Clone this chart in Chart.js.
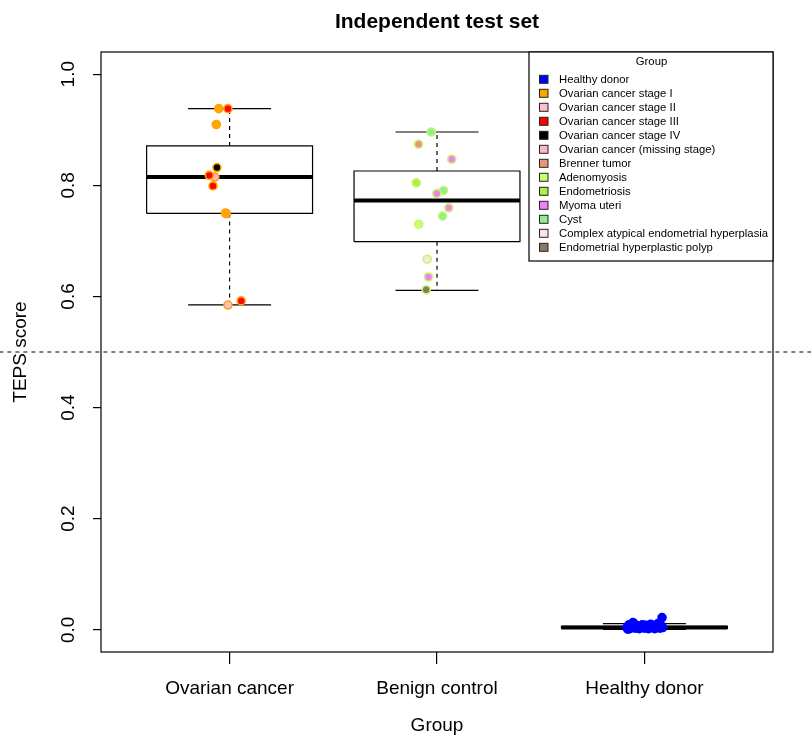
<!DOCTYPE html>
<html><head><meta charset="utf-8">
<script src="https://cdn.jsdelivr.net/npm/chart.js@4.4.0/dist/chart.umd.min.js"></script>
<style>html,body{margin:0;padding:0;background:#fff}#wrap{width:811px;height:735px;position:relative}</style>
</head><body><div id="wrap"><canvas id="c"></canvas></div>
<script>
// ---------- data ----------
const categories = ['Ovarian cancer', 'Benign control', 'Healthy donor'];
const categoryPositions = [1, 2, 3];
const yTickValues = [0, 0.2, 0.4, 0.6, 0.8, 1.0];
const yTickLabels = ['0.0', '0.2', '0.4', '0.6', '0.8', '1.0'];
const threshold = 0.5;

// boxplot statistics per category
const whiskerLow  = [0.585, 0.611, 0.0005];
const quartile1   = [0.7495, 0.6985, 0.0025];
const medians     = [0.815, 0.7725, 0.004];
const quartile3   = [0.871, 0.8258, 0.006];
const whiskerHigh = [0.938, 0.896, 0.011];

// legend / subgroups
const subgroups = ['Healthy donor', 'Ovarian cancer stage I', 'Ovarian cancer stage II', 'Ovarian cancer stage III',
  'Ovarian cancer stage IV', 'Ovarian cancer (missing stage)', 'Brenner tumor', 'Adenomyosis', 'Endometriosis',
  'Myoma uteri', 'Cyst', 'Complex atypical endometrial hyperplasia', 'Endometrial hyperplastic polyp'];
const subgroupColors = ['#0000FF', '#FFA500', '#FFC0CB', '#FF0000', '#000000', '#FFB6C1', '#E9967A',
  '#CAFF70', '#B3EE3A', '#EE82EE', '#90EE90', '#FFE4E1', '#8B7765'];
const groupBorderColors = ['#FFA500', '#C8F56A', '#0000FF'];

// individual samples (score, subgroup index, horizontal jitter)
const ovarianScores   = [0.938, 0.938, 0.9095, 0.832, 0.818, 0.815, 0.799, 0.749, 0.750, 0.592, 0.5845];
const ovarianSubgroup = [1, 3, 1, 4, 3, 5, 3, 3, 1, 3, 2];
const ovarianJitter   = [-0.052, -0.008, -0.064, -0.061, -0.098, -0.071, -0.080, -0.016, -0.020, 0.056, -0.008];

const benignScores   = [0.896, 0.874, 0.847, 0.8046, 0.7908, 0.7854, 0.7595, 0.7446, 0.730, 0.667, 0.635, 0.612];
const benignSubgroup = [10, 6, 9, 8, 10, 9, 9, 10, 7, 11, 9, 12];
const benignJitter   = [-0.028, -0.089, 0.071, -0.100, 0.031, -0.001, 0.057, 0.027, -0.088, -0.047, -0.041, -0.052];

const healthyScores = [0.004, 0.009, 0.002, 0.006, 0.011, 0.003, 0.007, 0.002, 0.005, 0.009, 0.003, 0.006,
  0.002, 0.010, 0.004, 0.007, 0.002, 0.005, 0.011, 0.003, 0.008, 0.022, 0.004, 0.001, 0.013, 0.008];
const healthyJitter = [-0.085, -0.075, -0.070, -0.060, -0.050, -0.045, -0.035, -0.025, -0.015, -0.010, 0.000, 0.010,
  0.020, 0.030, 0.035, 0.045, 0.050, 0.060, 0.065, 0.075, 0.080, 0.085, 0.088, -0.080, -0.055, 0.005];

// ---------- build datasets ----------
const FONT = '"Liberation Sans", Arial, Helvetica, sans-serif';
const BOX_HALF = 0.4, CAP_HALF = 0.2;

const groups = [
  {scores: ovarianScores, sub: ovarianSubgroup, jit: ovarianJitter},
  {scores: benignScores, sub: benignSubgroup, jit: benignJitter},
  {scores: healthyScores, sub: healthyScores.map(() => 0), jit: healthyJitter}
];

const pointSets = subgroups.map(() => ({data: [], borders: []}));
groups.forEach((g, gi) => {
  g.scores.forEach((s, i) => {
    const ps = pointSets[g.sub[i]];
    ps.data.push({x: categoryPositions[gi] + g.jit[i], y: s});
    ps.borders.push(groupBorderColors[gi]);
  });
});

const gap = (x) => ({x: x, y: null});
const boxData = [], medianData = [], whiskerData = [], capData = [];
categoryPositions.forEach((c, i) => {
  boxData.push({x: c - BOX_HALF, y: quartile1[i]}, {x: c + BOX_HALF, y: quartile1[i]},
    {x: c + BOX_HALF, y: quartile3[i]}, {x: c - BOX_HALF, y: quartile3[i]}, {x: c - BOX_HALF, y: quartile1[i]}, gap(c));
  medianData.push({x: c - BOX_HALF, y: medians[i]}, {x: c + BOX_HALF, y: medians[i]}, gap(c));
  whiskerData.push({x: c, y: quartile3[i]}, {x: c, y: whiskerHigh[i]}, gap(c),
    {x: c, y: quartile1[i]}, {x: c, y: whiskerLow[i]}, gap(c));
  capData.push({x: c - CAP_HALF, y: whiskerHigh[i]}, {x: c + CAP_HALF, y: whiskerHigh[i]}, gap(c),
    {x: c - CAP_HALF, y: whiskerLow[i]}, {x: c + CAP_HALF, y: whiskerLow[i]}, gap(c));
});

const lineDs = (label, data, width, dash, order) => ({
  label, data, showLine: true, pointRadius: 0, pointHoverRadius: 0,
  borderColor: '#000', backgroundColor: '#000', borderWidth: width, borderDash: dash,
  borderCapStyle: 'butt', borderJoinStyle: 'miter', spanGaps: false, order
});

const datasets = [];
pointSets.forEach((ps, si) => {
  if (!ps.data.length) return;
  datasets.push({
    label: subgroups[si], data: ps.data, pointRadius: 4, pointHoverRadius: 4,
    pointBackgroundColor: subgroupColors[si], backgroundColor: subgroupColors[si],
    pointBorderColor: ps.borders, borderColor: ps.borders, pointBorderWidth: 1.6, showLine: false, order: 0
  });
});
datasets.push(lineDs('median', medianData, 4, [], 1));
datasets.push(lineDs('box', boxData, 1.2, [], 2));
datasets.push(lineDs('caps', capData, 1.2, [], 2));
datasets.push(lineDs('whiskers', whiskerData, 1.2, [4, 4], 2));
const thr = lineDs('threshold', [{x: -2, y: threshold}, {x: 6, y: threshold}], 1, [4, 4], 3);
thr.clip = false;
datasets.push(thr);

// ---------- plugins ----------
const framePlugin = {
  id: 'frame',
  afterDatasetsDraw(chart) {
    const {ctx, chartArea: a} = chart;
    ctx.save();
    ctx.strokeStyle = '#000'; ctx.lineWidth = 1.2;
    ctx.strokeRect(a.left, a.top, a.right - a.left, a.bottom - a.top);
    ctx.restore();
  }
};
const legendPlugin = {
  id: 'rlegend',
  afterDraw(chart) {
    const {ctx, chartArea: a} = chart;
    const w = 244, h = 209, x0 = a.right - w, y0 = a.top;
    ctx.save();
    ctx.fillStyle = '#fff'; ctx.fillRect(x0, y0, w, h);
    ctx.strokeStyle = '#000'; ctx.lineWidth = 1.2; ctx.strokeRect(x0, y0, w, h);
    ctx.font = '11.3px ' + FONT; ctx.fillStyle = '#000';
    ctx.textAlign = 'center'; ctx.textBaseline = 'middle';
    ctx.fillText('Group', x0 + w / 2 + 0.5, y0 + 10);
    ctx.textAlign = 'left';
    subgroups.forEach((s, i) => {
      const yc = y0 + 27.3 + 14 * i;
      ctx.fillStyle = subgroupColors[i];
      ctx.fillRect(x0 + 10.5, yc - 4, 8.5, 8);
      ctx.strokeStyle = '#222'; ctx.lineWidth = 1;
      ctx.strokeRect(x0 + 10.5, yc - 4, 8.5, 8);
      ctx.fillStyle = '#000';
      ctx.fillText(s, x0 + 30, yc + 0.5);
    });
    ctx.restore();
  }
};

// ---------- chart ----------
new Chart(document.getElementById('c'), {
  type: 'scatter',
  data: {datasets},
  options: {
    responsive: true, maintainAspectRatio: false, animation: false,
    events: [],
    layout: {padding: {left: 0, right: 38, top: 0, bottom: 0}},
    plugins: {
      legend: {display: false}, tooltip: {enabled: false},
      title: {display: true, fullSize: false, text: 'Independent test set', color: '#000',
        font: {family: FONT, size: 21, weight: 'bold', lineHeight: 1.2}, padding: {top: 10, bottom: 16.8}}
    },
    scales: {
      x: {
        type: 'linear', position: 'bottom', min: 0.38, max: 3.62,
        afterBuildTicks: (s) => { s.ticks = categoryPositions.map(v => ({value: v})); },
        afterFit: (s) => { s.height = 83; },
        ticks: {autoSkip: false, color: '#000', font: {family: FONT, size: 19}, padding: 13, maxRotation: 0,
          callback: (v) => categories[categoryPositions.indexOf(v)]},
        grid: {drawOnChartArea: false, drawTicks: true, tickLength: 12, color: '#000', lineWidth: 1.2},
        border: {display: false},
        title: {display: true, text: 'Group', color: '#000', font: {family: FONT, size: 19, lineHeight: 1}, padding: {top: 0, bottom: 0}}
      },
      y: {
        type: 'linear', position: 'left', min: -0.04, max: 1.04,
        afterBuildTicks: (s) => { s.ticks = yTickValues.map(v => ({value: v})); },
        afterFit: (s) => { s.width = 101; },
        ticks: {autoSkip: false, color: '#000', font: {family: FONT, size: 19}, padding: 11,
          minRotation: 90, maxRotation: 90, crossAlign: 'center',
          callback: (v) => yTickLabels[yTickValues.findIndex(t => Math.abs(t - v) < 1e-9)]},
        grid: {drawOnChartArea: false, drawTicks: true, tickLength: 8, color: '#000', lineWidth: 1.2},
        border: {display: false},
        title: {display: true, text: 'TEPS score', color: '#000', font: {family: FONT, size: 19, lineHeight: 1}, padding: {top: 11, bottom: 0}}
      }
    }
  },
  plugins: [framePlugin, legendPlugin]
});
</script>
</body></html>
